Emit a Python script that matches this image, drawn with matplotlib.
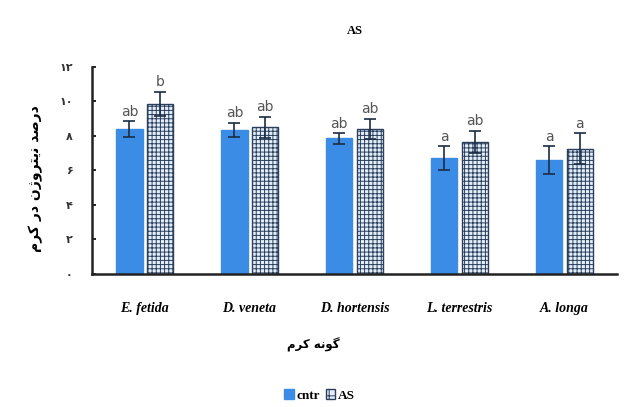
import matplotlib
matplotlib.use("Agg")
import matplotlib.pyplot as plt
import numpy as np
from matplotlib.patches import Patch

species = ["E. fetida", "D. veneta", "D. hortensis", "L. terrestris", "A. longa"]
cntr = [8.4, 8.35, 7.85, 6.7, 6.6]
cntr_err = [0.45, 0.4, 0.3, 0.7, 0.8]
as_vals = [9.85, 8.5, 8.4, 7.65, 7.25]
as_err = [0.7, 0.6, 0.6, 0.65, 0.9]
cntr_letters = ["ab", "ab", "ab", "a", "a"]
as_letters = ["b", "ab", "ab", "ab", "a"]
yticks = [0, 2, 4, 6, 8, 10, 12]
ytick_labels = ["\u06f0", "\u06f2", "\u06f4", "\u06f6", "\u06f8", "\u06f1\u06f0", "\u06f1\u06f2"]

# Persian labels, shaped into presentation forms in visual (left-to-right) order
ylabel_logical = ["\uFEA9", "\uFEAD", "\uFEBB", "\uFEAA", " ",
                  "\uFEE7", "\uFBFE", "\uFE98", "\uFEAE", "\uFEED", "\uFB8A", "\uFEE5", " ",
                  "\uFEA9", "\uFEAD", " ",
                  "\uFB90", "\uFEAE", "\uFEE1"]
xlabel_logical = ["\uFB94", "\uFEEE", "\uFEE7", "\uFEEA", " ",
                  "\uFB90", "\uFEAE", "\uFEE1"]
ylabel_text = "".join(reversed(ylabel_logical))
xlabel_text = "".join(reversed(xlabel_logical))

fig = plt.figure(figsize=(6.27, 4.07), dpi=100)
ax = fig.add_axes([0.147, 0.327, 0.837, 0.5086])

x = np.arange(len(species))
w = 0.25
off = 0.145
plt.rcParams['hatch.linewidth'] = 0.7
b1 = ax.bar(x - off, cntr, w, color="#3a8ce4", edgecolor="#3a8ce4", zorder=2)
b2 = ax.bar(x + off, as_vals, w, color="#e4eefa", edgecolor="#2b3f5c", hatch="++++",
            linewidth=1.0, zorder=2)
ax.errorbar(x - off, cntr, yerr=cntr_err, fmt="none", ecolor="#1c2c44", elinewidth=1.2,
            capsize=4, capthick=1.2, zorder=3)
ax.errorbar(x + off, as_vals, yerr=as_err, fmt="none", ecolor="#1c2c44", elinewidth=1.2,
            capsize=4, capthick=1.2, zorder=3)
for xi, v, e, t in zip(x - off, cntr, cntr_err, cntr_letters):
    ax.text(xi, v + e + 0.15, t, ha="center", va="bottom", fontsize=10, color="#555555")
for xi, v, e, t in zip(x + off, as_vals, as_err, as_letters):
    ax.text(xi, v + e + 0.15, t, ha="center", va="bottom", fontsize=10, color="#555555")

ax.set_xlim(-0.5, len(species) - 0.5)
ax.set_ylim(0, 12)
ax.set_yticks(yticks)
ax.set_yticklabels(ytick_labels, family=["DejaVu Sans"], fontweight="bold", fontsize=8, color="#333333")
ax.set_xticks(x)
ax.set_xticklabels(species, family="Liberation Serif", fontweight="bold", style="italic", fontsize=10)
ax.tick_params(axis="y", direction="in", length=3, width=1.2, pad=14)
ax.tick_params(axis="x", length=0, pad=20)
for s in ["top", "right"]:
    ax.spines[s].set_visible(False)
for s in ["left", "bottom"]:
    ax.spines[s].set_linewidth(1.8)
    ax.spines[s].set_color("#222222")

ax.set_title("AS", family="Liberation Serif", fontweight="bold", fontsize=9, pad=24)
fig.text(0.057, 0.56, ylabel_text, rotation=90, ha="center", va="center",
         family=["DejaVu Sans"], fontweight="bold", fontsize=10)
fig.text(0.5, 0.152, xlabel_text, ha="center", va="center",
         family=["DejaVu Sans"], fontweight="bold", fontsize=8.5)

handles = [Patch(facecolor="#3a8ce4", edgecolor="#3a8ce4"),
           Patch(facecolor="#e4eefa", edgecolor="#2b3f5c", hatch="++")]
leg = fig.legend(handles, ["cntr", "AS"], loc="center", bbox_to_anchor=(0.51, 0.028),
                 ncol=2, frameon=False, handlelength=0.7, handleheight=0.7,
                 handletextpad=0.25, columnspacing=0.4,
                 prop={"family": "Liberation Serif", "weight": "bold", "size": 9.5})

fig.savefig("out.png", dpi=100)
